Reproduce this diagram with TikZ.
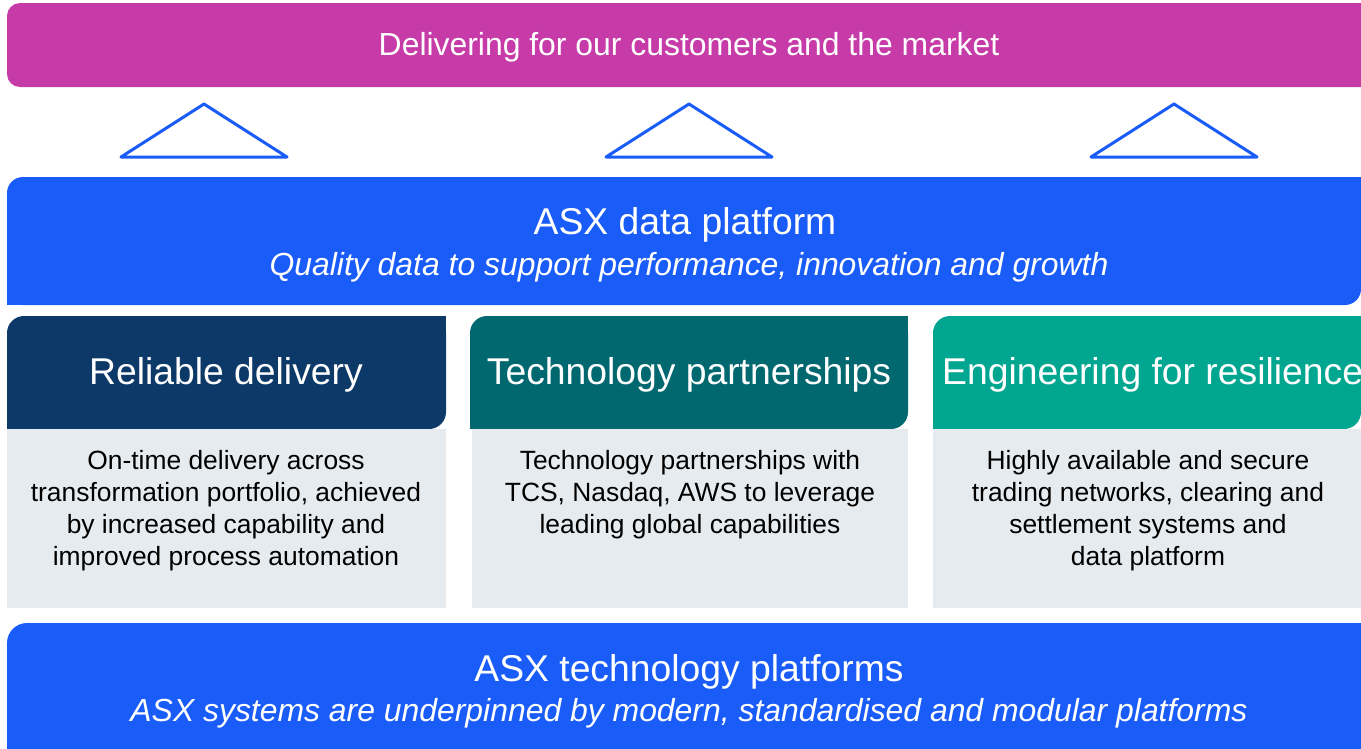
\documentclass[tikz,border=0pt]{standalone}
\usepackage{fontspec}
\setmainfont{Liberation Sans}
\definecolor{asxmag}{HTML}{C63BA8}
\definecolor{asxblue}{HTML}{1A5CF8}
\definecolor{asxnavy}{HTML}{0D3968}
\definecolor{asxteal}{HTML}{00686E}
\definecolor{asxgreen}{HTML}{00A68F}
\definecolor{asxgray}{HTML}{E6EBEF}
\tikzset{
  tri/.style={draw=asxblue, line width=3pt, line join=round, fill=white},
  bigtitle/.style={text=white, font=\fontsize{37.3}{42}\selectfont, inner sep=0pt},
  subtitle/.style={text=white, font=\fontsize{31.9}{36}\selectfont\itshape, inner sep=0pt},
  toptitle/.style={text=white, font=\fontsize{31.9}{36}\selectfont, inner sep=0pt},
  body/.style={text=black, font=\fontsize{26.4}{32}\selectfont, align=center, inner sep=0pt},
}
\begin{document}
\begin{tikzpicture}[x=1pt,y=-1pt]
\useasboundingbox (0,0) rectangle (1361,748);
\clip (0,0) rectangle (1361,748);
% top bar
\fill[asxmag, rounded corners=13pt] (7,3) rectangle (1400,87);
\node[toptitle] (top) at (689,47) {Delivering for our customers and the market};
% triangles
\draw[tri] (121,157) -- (204,104) -- (287,157) -- cycle;
\draw[tri] (606,157) -- (689,104) -- (772,157) -- cycle;
\draw[tri] (1091,157) -- (1174,104) -- (1257,157) -- cycle;
% data platform
\fill[asxblue, rounded corners=16pt] (7,177) rectangle (1361,305);
\fill[asxblue] (1340,177) rectangle (1361,200);
\fill[asxblue] (7,285) rectangle (30,305);
\node[bigtitle] (dp) at (685,225) {ASX data platform};
\node[subtitle] (dps) at (689,267) {Quality data to support performance, innovation and growth};
% headers
\foreach \xa/\xb/\c in {7/446/asxnavy, 470/908/asxteal, 933/1361/asxgreen}{
  \fill[\c, rounded corners=17pt] (\xa,316) rectangle (\xb,429);
  \fill[\c] (\xb-20,316) rectangle (\xb,340);
  \fill[\c] (\xa,405) rectangle (\xa+20,429);
}
% bodies
\fill[asxgray] (7,429) rectangle (446,608);
\fill[asxgray] (472,429) rectangle (908,608);
\fill[asxgray] (933,429) rectangle (1361,608);
\node[bigtitle] (h1) at (226,375) {Reliable delivery};
\node[bigtitle] (h2) at (689,375) {Technology partnerships};
\node[bigtitle, anchor=west] (h3) at (942,375) {Engineering for resilience};
\node[body, anchor=north] (b1) at (226,450) {On-time delivery across\\transformation portfolio, achieved\\by increased capability and\\improved process automation};
\node[body, anchor=north] (b2) at (690,450) {Technology partnerships with\\TCS, Nasdaq, AWS to leverage\\leading global capabilities};
\node[body, anchor=north] (b3) at (1148,450) {Highly available and secure\\trading networks, clearing and\\settlement systems and\\data platform};
% bottom
\fill[asxblue, rounded corners=20pt] (7,623) rectangle (1400,800);
\node[bigtitle] (tp) at (689,672) {ASX technology platforms};
\node[subtitle] (tps) at (689,713) {ASX systems are underpinned by modern, standardised and modular platforms};
\end{tikzpicture}
\end{document}
